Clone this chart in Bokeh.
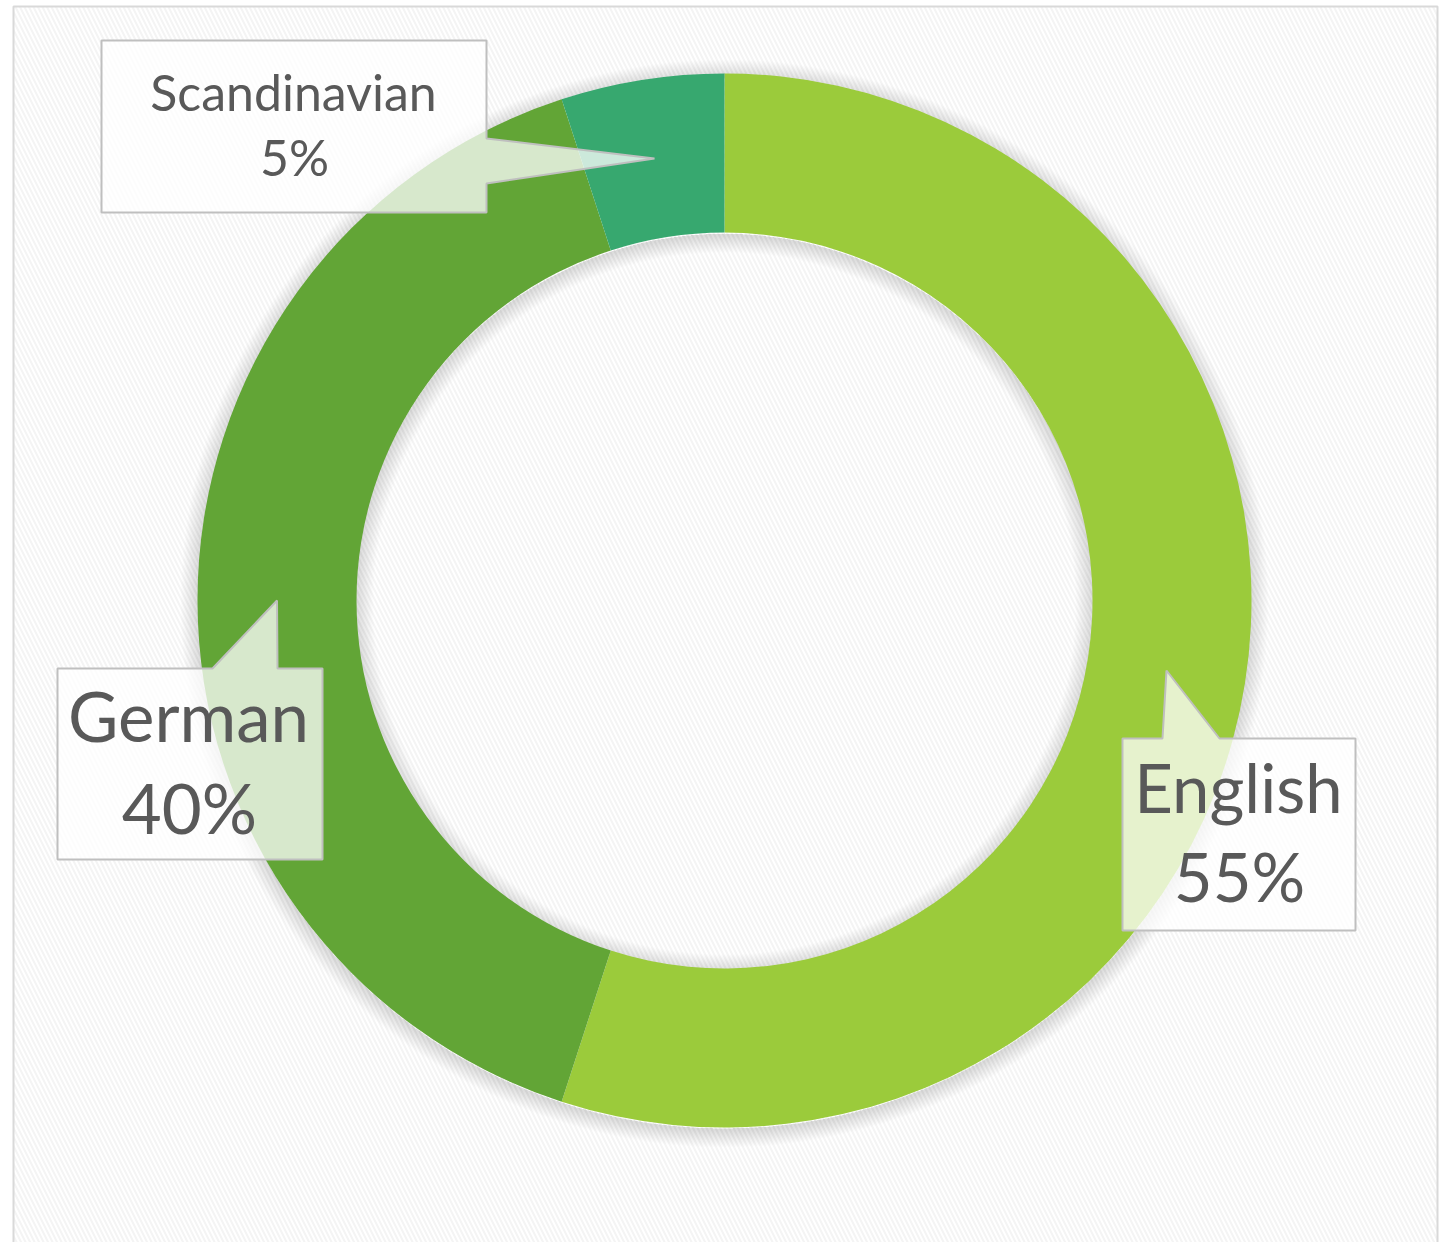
import numpy as np
from bokeh.plotting import figure
from bokeh.models import Range1d, ColumnDataSource
from bokeh.core.properties import value
from bokeh.embed import file_html
from bokeh.resources import INLINE

# ---- data ----
categories = ["English", "German", "Scandinavian"]
shares = [55, 40, 5]
pct_labels = ["55%", "40%", "5%"]
colors = ["#9BCB3B", "#62A536", "#37A86F"]

# ---- layout (page pixel coordinates; y grows downward) ----
W, H = 1451, 1242
X0, Y0 = 0, 0
CX, CY = 724, 600
R_OUT, R_IN = 527, 368
FONT = "Lato"
TEXT_COLOR = "#595959"

# label boxes: left, top, right, bottom
box_rects = [(1122, 738, 1355, 930), (57, 668, 322, 859), (101, 40, 486, 212)]
# pointer base: edge, first coordinate, second coordinate
pointer_bases = [("top", 1162, 1219), ("top", 212, 277), ("right", 138, 183)]
# visual baselines of the two text lines
name_pos = [(1238, 814), (188, 743), (293, 112)]
pct_pos = [(1239, 903), (189, 835), (294, 177)]
font_px = [67, 69, 50]
BASE_SHIFT = 0.41  # renderer baseline correction, fraction of font size


def fy(y):
    return -y


p = figure(width=W, height=H, x_range=Range1d(X0, X0 + W), y_range=Range1d(fy(Y0 + H), fy(Y0)),
           output_backend="svg", toolbar_location=None, min_border=0,
           x_axis_type=None, y_axis_type=None)
p.grid.visible = False
p.outline_line_color = None
p.background_fill_color = "white"
p.border_fill_color = "white"

# chart area with faint diagonal texture and border
p.quad(left=13, right=1437, top=fy(6), bottom=fy(1300), fill_color="white",
       hatch_pattern="\\", hatch_color="#f4f4f4", hatch_scale=9, hatch_weight=2,
       line_color="#d9d9d9", line_width=2)

# soft shadow around the ring
for k in range(1, 18):
    p.annulus(x=CX, y=fy(CY + 3), inner_radius=R_OUT - 2, outer_radius=R_OUT + k,
              fill_color="black", fill_alpha=0.007, line_color=None)
    p.annulus(x=CX, y=fy(CY + 3), inner_radius=R_IN - k, outer_radius=R_IN + 2,
              fill_color="black", fill_alpha=0.007, line_color=None)

# wedges
tot = float(sum(shares))
fr = np.array(shares) / tot
ends_cum = np.cumsum(fr)
starts_cum = ends_cum - fr
start_angle = np.pi / 2 - 2 * np.pi * starts_cum
end_angle = np.pi / 2 - 2 * np.pi * ends_cum
src = ColumnDataSource(dict(cat=categories, start=start_angle, end=end_angle, color=colors))
p.annular_wedge(x=CX, y=fy(CY), inner_radius=R_IN, outer_radius=R_OUT,
                start_angle="start", end_angle="end", direction="clock",
                fill_color="color", line_color=None, source=src)

# callouts: tip at mid-angle / mid-radius of each wedge
mid = (start_angle + end_angle) / 2
r_mid = (R_IN + R_OUT) / 2
xs, ys = [], []
for (l, t, r, b), (edge, a1, a2), ang in zip(box_rects, pointer_bases, mid):
    tx = CX + r_mid * np.cos(ang)
    ty = CY - r_mid * np.sin(ang)
    if edge == "top":
        pts = [(l, t), (a1, t), (tx, ty), (a2, t), (r, t), (r, b), (l, b)]
    else:  # right
        pts = [(l, t), (r, t), (r, a1), (tx, ty), (r, a2), (r, b), (l, b)]
    xs.append([q[0] for q in pts])
    ys.append([fy(q[1]) for q in pts])
p.patches(xs=xs, ys=ys, fill_color="white", fill_alpha=0.75,
          line_color="#bfbfbf", line_width=2)

# texts
sizes = [f"{s}px" for s in font_px]
p.text(x=[q[0] for q in name_pos],
       y=[fy(q[1] - BASE_SHIFT * s) for q, s in zip(name_pos, font_px)], text=categories,
       text_font=value(FONT), text_font_size=sizes, text_color=TEXT_COLOR,
       text_align="center", text_baseline="alphabetic")
p.text(x=[q[0] for q in pct_pos],
       y=[fy(q[1] - BASE_SHIFT * s) for q, s in zip(pct_pos, font_px)], text=pct_labels,
       text_font=value(FONT), text_font_size=sizes, text_color=TEXT_COLOR,
       text_align="center", text_baseline="alphabetic")

open("out.html", "w").write(file_html(p, INLINE))
